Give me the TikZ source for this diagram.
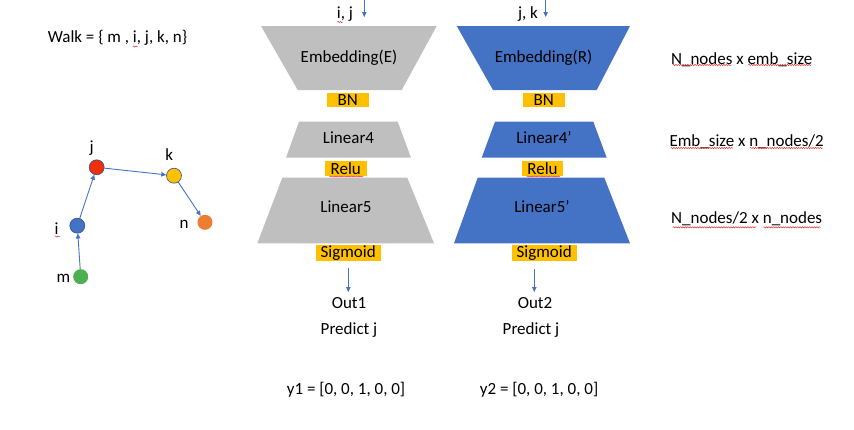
\documentclass[tikz,border=0pt]{standalone}
\usepackage{fontspec}
\setmainfont{Carlito}
\usetikzlibrary{arrows.meta,decorations.pathmorphing}
\definecolor{grayfill}{HTML}{BFBFBF}
\definecolor{bluefill}{HTML}{4472C4}
\definecolor{goldfill}{HTML}{FFC000}
\definecolor{outl}{HTML}{2F528F}
\definecolor{redn}{HTML}{EE2F0A}
\definecolor{orangen}{HTML}{ED7D31}
\definecolor{greenn}{HTML}{4CAF50}
\definecolor{squigred}{HTML}{E03030}
\tikzset{
  txt/.style={inner sep=0pt, font=\fontsize{17}{20}\selectfont},
  actbox/.style={fill=goldfill, inner sep=0pt, font=\fontsize{17}{20}\selectfont},
  arr/.style={draw=bluefill, line width=0.9pt, -{Triangle[length=5pt,width=4.5pt]}},
  gnode/.style={circle, minimum size=15pt, inner sep=0pt, draw=outl, line width=0.6pt},
  squig/.style={draw=squigred, line width=0.5pt, decorate, decoration={snake, amplitude=0.6pt, segment length=2.4pt}}
}
\begin{document}
\begin{tikzpicture}[x=1pt,y=-1pt]
\useasboundingbox (0,0) rectangle (854,429);

% Walk text
\node[txt] (walk) at (117.5,38) {Walk = \{ m , i, j, k, n\}};

% graph
\node[gnode, fill=redn] (j) at (96.7,167.3) {};
\node[gnode, fill=goldfill] (k) at (174,175.7) {};
\node[gnode, fill=bluefill] (i) at (77.3,225.7) {};
\node[gnode, fill=orangen, draw=none] (n) at (205,222.3) {};
\node[gnode, fill=greenn, draw=none] (m) at (80.7,276.7) {};
\node[txt] (jl) at (91.7,148.3) {j};
\node[txt] (kl) at (169.3,155) {k};
\node[txt] (il) at (56.7,229) {i};
\node[txt] (nl) at (184,224) {n};
\node[txt] (ml) at (63.3,278.3) {m};
\draw[arr] (m) -- (i);
\draw[arr] (i) -- (j);
\draw[arr] (j) -- (k);
\draw[arr] (k) -- (n);

% left column (gray)
\fill[grayfill] (261,26) -- (436.7,26) -- (401.7,90) -- (297.7,90) -- cycle;
\node[txt] (embE) at (349,58) {Embedding(E)};
\node[actbox, minimum width=41.7pt, minimum height=14pt] (bnE) at (347.8,99.7) {BN};
\fill[grayfill] (299,121.7) -- (397.7,121.7) -- (411,157.7) -- (286,157.7) -- cycle;
\node[txt] (linE4) at (348.5,137.5) {Linear4};
\node[actbox, minimum width=41.7pt, minimum height=14.7pt] (reluE) at (345.8,168.3) {Relu};
\fill[grayfill] (282.3,177.7) -- (407.3,177.7) -- (434,243.3) -- (257.3,243.3) -- cycle;
\node[txt] (linE5) at (346,206.3) {Linear5};
\node[actbox, minimum width=65pt, minimum height=15.7pt] (sigE) at (348.2,252.8) {Sigmoid};

% right column (blue)
\fill[bluefill] (456.7,26) -- (630,26) -- (596.7,90) -- (493,90) -- cycle;
\node[txt] (embR) at (543.5,58) {Embedding(R)};
\node[actbox, minimum width=42.3pt, minimum height=14pt] (bnR) at (543.8,99.7) {BN};
\fill[bluefill] (495,121.7) -- (593.3,121.7) -- (606.7,157.7) -- (481.7,157.7) -- cycle;
\node[txt] (linR4) at (544,137.5) {Linear4’};
\node[actbox, minimum width=41.7pt, minimum height=14.7pt] (reluR) at (542.5,168.3) {Relu};
\fill[bluefill] (477.7,177.7) -- (604.3,177.7) -- (630,243.3) -- (454,243.3) -- cycle;
\node[txt] (linR5) at (542,206.3) {Linear5’};
\node[actbox, minimum width=65pt, minimum height=15.7pt] (sigR) at (544.2,252.8) {Sigmoid};

% inputs
\node[txt] (inEl) at (345,14) {i, j};
\node[txt] (inRl) at (528,14) {j, k};
\coordinate (inEs) at (364.3,0);
\coordinate (inEe) at (364.3,17);
\coordinate (inRs) at (545.7,0);
\coordinate (inRe) at (545.7,17);
\draw[arr] (inEs) -- (inEe);
\draw[arr] (inRs) -- (inRe);

% outputs
\node[txt] (out1) at (349,302.7) {Out1};
\node[txt] (pred1) at (349,330) {Predict j};
\node[txt] (y1) at (346,390) {y1 = [0, 0, 1, 0, 0]};
\node[txt] (out2) at (535,302.7) {Out2};
\node[txt] (pred2) at (531,330) {Predict j};
\node[txt] (y2) at (539,390) {y2 = [0, 0, 1, 0, 0]};
\coordinate (oEs) at (348.3,268);
\coordinate (oEe) at (348.3,292);
\coordinate (oRs) at (534.3,269);
\coordinate (oRe) at (534.3,292);
\draw[arr] (oEs) -- (oEe);
\draw[arr] (oRs) -- (oRe);

% dimension labels
\node[txt] (d1) at (741.7,59.3) {N\_nodes x emb\_size};
\node[txt] (d2) at (746.7,141.7) {Emb\_size x n\_nodes/2};
\node[txt] (d3) at (746.7,218.3) {N\_nodes/2 x n\_nodes};

% spell-check squiggles
\draw[squig] (132.7,46.5) -- (137.5,46.5);
\draw[squig] (337.3,22) -- (342.5,22);
\draw[squig] (329.3,176.5) -- (363.3,176.5);
\draw[squig] (526.7,176.5) -- (560,176.5);
\draw[squig] (672.7,65) -- (731.7,65);
\draw[squig] (748.3,65) -- (811,65);
\draw[squig] (670.7,148) -- (733.3,148);
\draw[squig] (750,148) -- (822.7,148);
\draw[squig] (672.7,227.3) -- (756,227.3);
\draw[squig] (763.3,227.3) -- (820.7,227.3);
\draw[squig] (55,236.5) -- (60,236.5);
\end{tikzpicture}
\end{document}
